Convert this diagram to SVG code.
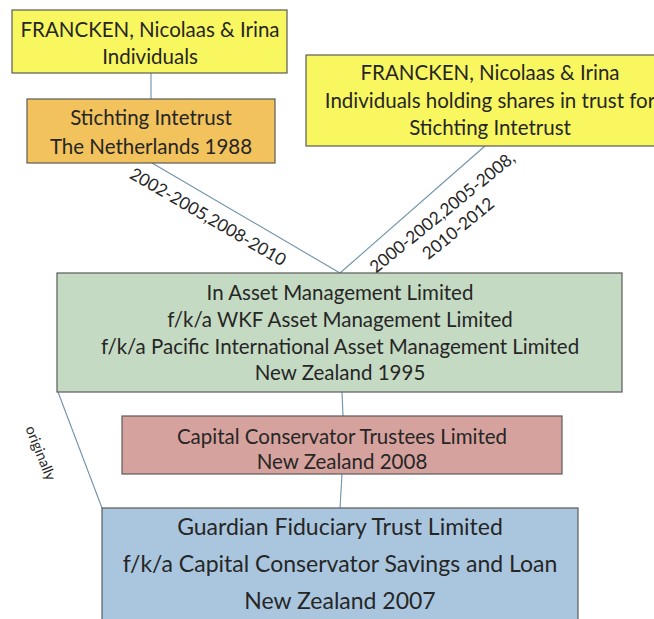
<svg xmlns="http://www.w3.org/2000/svg" width="654" height="619" viewBox="0 0 654 619">
  <style>
    .box { stroke: #5a5a5a; stroke-width: 1.2; }
    .yellow { fill: #F9F75F; }
    .orange { fill: #F2C25C; }
    .green { fill: #C5DAC2; }
    .red { fill: #D6A29D; }
    .blue { fill: #AAC6DF; }
    .t { font-family: Lato, "Liberation Sans", sans-serif; font-size: 20.5px; fill: #262626; text-anchor: middle; }
    .big { font-size: 23px; }
    .lbl { font-family: Lato, "Liberation Sans", sans-serif; font-size: 17.3px; fill: #262626; text-anchor: middle; }
    .small { font-size: 14.5px; }
    .link { stroke: #6E92AA; stroke-width: 1.1; fill: none; }
  </style>
  <rect width="654" height="619" fill="#ffffff"/>

  <!-- connectors -->
  <g id="connectors">
    <line class="link" x1="151" y1="73" x2="151" y2="99"/>
    <line class="link" x1="152" y1="163" x2="340" y2="273"/>
    <line class="link" x1="485" y1="146" x2="340" y2="273"/>
    <line class="link" x1="342" y1="392" x2="343" y2="416"/>
    <line class="link" x1="342" y1="474" x2="340" y2="508"/>
    <line class="link" x1="58" y1="392" x2="102" y2="508"/>
    <text class="lbl" transform="translate(205,222) rotate(30.2)">2002-2005,2008-2010</text>
    <text class="lbl" transform="translate(446,217) rotate(-39)">2000-2002,2005-2008,</text>
    <text class="lbl" transform="translate(462,233) rotate(-39)">2010-2012</text>
    <text class="lbl small" transform="translate(36,455) rotate(68)">originally</text>
  </g>

  <!-- FRANCKEN individuals -->
  <g id="francken-individuals">
    <rect class="box yellow" x="12" y="10" width="275" height="63"/>
    <text class="t" x="150" y="37">FRANCKEN, Nicolaas &amp; Irina</text>
    <text class="t" x="150" y="64">Individuals</text>
  </g>

  <!-- Stichting Intetrust -->
  <g id="stichting-intetrust">
    <rect class="box orange" x="27" y="99" width="248" height="64"/>
    <text class="t" x="151" y="125">Stichting Intetrust</text>
    <text class="t" x="151" y="154">The Netherlands 1988</text>
  </g>

  <!-- FRANCKEN holding shares in trust -->
  <g id="francken-trustees">
    <rect class="box yellow" x="306" y="55" width="370" height="91"/>
    <text class="t" x="490" y="80">FRANCKEN, Nicolaas &amp; Irina</text>
    <text class="t" x="490" y="108">Individuals holding shares in trust for</text>
    <text class="t" x="490" y="135">Stichting Intetrust</text>
  </g>

  <!-- In Asset Management -->
  <g id="in-asset-management">
    <rect class="box green" x="57" y="273" width="565" height="119"/>
    <text class="t" x="340" y="300">In Asset Management Limited</text>
    <text class="t" x="340" y="327">f/k/a WKF Asset Management Limited</text>
    <text class="t" x="340" y="354">f/k/a Pacific International Asset Management Limited</text>
    <text class="t" x="340" y="380">New Zealand 1995</text>
  </g>

  <!-- Capital Conservator Trustees -->
  <g id="capital-conservator-trustees">
    <rect class="box red" x="122" y="416" width="440" height="58"/>
    <text class="t" x="342" y="444">Capital Conservator Trustees Limited</text>
    <text class="t" x="342" y="469">New Zealand 2008</text>
  </g>

  <!-- Guardian Fiduciary Trust -->
  <g id="guardian-fiduciary-trust">
    <rect class="box blue" x="102" y="508" width="476" height="116"/>
    <text class="t big" x="340" y="535">Guardian Fiduciary Trust Limited</text>
    <text class="t big" x="340" y="572">f/k/a Capital Conservator Savings and Loan</text>
    <text class="t big" x="340" y="609">New Zealand 2007</text>
  </g>
</svg>
